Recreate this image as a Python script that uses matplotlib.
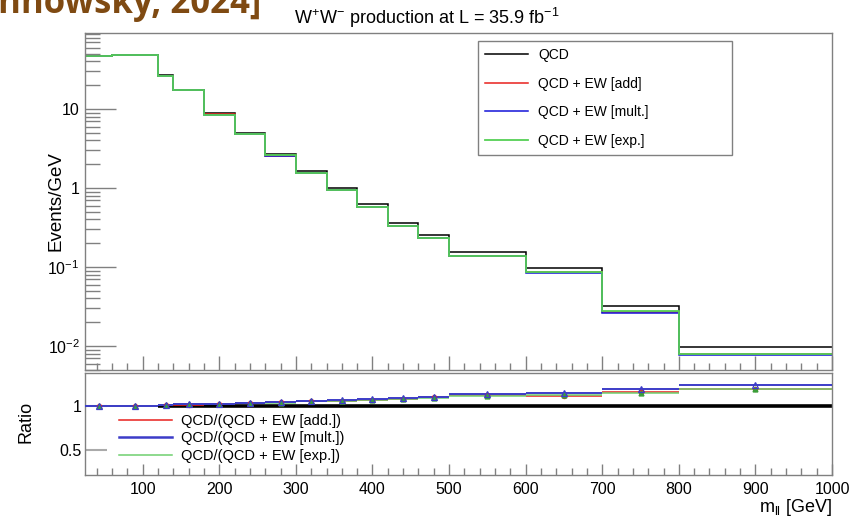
import numpy as np
import matplotlib
matplotlib.use("Agg")
import matplotlib.pyplot as plt
from matplotlib import font_manager
from matplotlib.lines import Line2D
from matplotlib.ticker import FixedLocator, FuncFormatter, MultipleLocator

# m_ll binning [GeV] and QCD spectrum [events/GeV]
edges = [25, 60, 120, 140, 180, 220, 260, 300, 340, 380, 420, 460, 500, 600, 700, 800, 1000]
qcd = [47.0, 48.6, 26.8, 17.6, 8.8, 5.0, 2.7, 1.66, 1.0, 0.62, 0.36, 0.255,
       0.156, 0.098, 0.0317, 0.0096]

# QCD / (QCD + EW) for the three combination schemes
ratio_add = [1.0, 1.003, 1.016, 1.022, 1.030, 1.038, 1.047, 1.058, 1.068, 1.075,
             1.090, 1.104, 1.128, 1.118, 1.162, 1.200]
ratio_mult = [1.0, 1.003, 1.018, 1.024, 1.032, 1.040, 1.050, 1.062, 1.072, 1.080,
              1.095, 1.110, 1.138, 1.154, 1.200, 1.250]
ratio_exp = [1.0, 1.003, 1.016, 1.024, 1.033, 1.040, 1.042, 1.058, 1.066, 1.073,
             1.088, 1.102, 1.123, 1.132, 1.158, 1.204]

unity_from = 120

names = {f.name for f in font_manager.fontManager.ttflist}
SANS = "Liberation Sans Narrow" if "Liberation Sans Narrow" in names else "Liberation Sans"
plt.rcParams["font.family"] = [SANS, "DejaVu Sans"]
plt.rcParams["mathtext.fontset"] = "custom"
plt.rcParams["mathtext.rm"] = SANS
plt.rcParams["mathtext.it"] = SANS + ":italic"
plt.rcParams["mathtext.bf"] = SANS + ":bold"

C_QCD, C_ADD, C_MULT, C_EXP = "black", "#e8201c", "#1414d8", "#55d055"
GRID = "#808080"

edges = np.array(edges, float)
qcd = np.array(qcd)
centers = 0.5 * (edges[:-1] + edges[1:])
ew = {"add": qcd / np.array(ratio_add),
      "mult": qcd / np.array(ratio_mult),
      "exp": qcd / np.array(ratio_exp)}

W, H = 856, 521
fig = plt.figure(figsize=(W / 100, H / 100), dpi=100)


def frac(x0, y0, x1, y1):
    return [x0 / W, 1 - y1 / H, (x1 - x0) / W, (y1 - y0) / H]


ax1 = fig.add_axes(frac(85.3, 33.3, 832, 370))
ax2 = fig.add_axes(frac(85.3, 373, 832, 475))

# ---- spectrum ----
ax1.stairs(qcd, edges, baseline=None, color=C_QCD, lw=1.1, label="QCD")
ax1.stairs(ew["add"], edges, baseline=None, color=C_ADD, lw=1.1, label="QCD + EW [add]")
ax1.stairs(ew["mult"], edges, baseline=None, color=C_MULT, lw=1.1, label="QCD + EW [mult.]")
ax1.stairs(ew["exp"], edges, baseline=None, color=C_EXP, lw=1.3, label="QCD + EW [exp.]")
ax1.set_yscale("log")
ax1.set_xlim(edges[0], edges[-1])
ax1.set_ylim(0.00497, 91)


def log_lab(v, _):
    e = int(round(np.log10(v)))
    if e >= 0:
        return f"{int(round(v))}"
    return r"$\mathregular{10^{%d}}$" % e


ax1.yaxis.set_major_locator(FixedLocator([1e-2, 1e-1, 1, 10]))
ax1.yaxis.set_major_formatter(FuncFormatter(log_lab))
ax1.yaxis.set_minor_locator(matplotlib.ticker.LogLocator(base=10, subs=np.arange(2, 10)))
ax1.yaxis.set_minor_formatter(matplotlib.ticker.NullFormatter())
ax1.xaxis.set_major_locator(MultipleLocator(100))
ax1.xaxis.set_minor_locator(MultipleLocator(20))
ax1.tick_params(axis="y", which="major", direction="in", length=22, width=1,
                color=GRID, labelsize=11.5, pad=4)
ax1.tick_params(axis="y", which="minor", direction="in", length=11, width=1, color=GRID)
ax1.tick_params(axis="x", which="major", direction="in", length=10, width=1, color=GRID,
                labelbottom=False)
ax1.tick_params(axis="x", which="minor", direction="in", length=5, width=1, color=GRID)

ax1.legend(loc="upper left", bbox_to_anchor=(478 / W, 1 - 152 / H, 254 / W, 111 / H),
           bbox_transform=fig.transFigure, mode="expand", fontsize=10,
           handlelength=3.1, handletextpad=0.72, labelspacing=1.05, borderpad=0.5,
           borderaxespad=0, frameon=True, fancybox=False, edgecolor=GRID,
           framealpha=1)

# ---- ratio panel ----
ax2.hlines(1, unity_from, edges[-1], color="black", lw=2.6, zorder=1)
ax2.hlines(ratio_add, edges[:-1], edges[1:], color=C_ADD, lw=1.1, zorder=2)
ax2.hlines(ratio_exp, edges[:-1], edges[1:], color="#6fd06f", lw=1.1, zorder=3)
ax2.hlines(ratio_mult, edges[:-1], edges[1:], color="#3c3cc8", lw=1.4, zorder=4)
ax2.plot(centers, ratio_add, "o", ms=3, color=C_ADD, mfc="none", mew=0.9, zorder=5)
ax2.plot(centers, ratio_exp, "^", ms=3.5, color="#3aa03a", zorder=5)
ax2.plot(centers, ratio_mult, "^", ms=4, color="#3c3cc8", mfc="none", mew=0.9, zorder=6)
ax2.set_xlim(edges[0], edges[-1])
ax2.set_ylim(0.21, 1.385)
ax2.xaxis.set_major_locator(MultipleLocator(100))
ax2.xaxis.set_minor_locator(MultipleLocator(20))
ax2.yaxis.set_major_locator(FixedLocator([0.5, 1]))
ax2.yaxis.set_major_formatter(FuncFormatter(lambda v, _: "1" if v == 1 else f"{v:g}"))
ax2.tick_params(axis="x", which="major", direction="in", length=8, width=1, color=GRID,
                labelsize=11.5, pad=5)
ax2.tick_params(axis="x", which="minor", direction="in", length=5, width=1, color=GRID)
ax2.tick_params(axis="y", which="major", direction="in", length=16, width=1.5, color="#aaaaaa",
                labelsize=11.5, pad=3)

ratio_handles = [Line2D([], [], color=C_ADD, lw=1.1),
                 Line2D([], [], color="#3c3cc8", lw=1.8),
                 Line2D([], [], color="#6fd06f", lw=1.1)]
ax2.legend(ratio_handles,
           ["QCD/(QCD + EW [add.])", "QCD/(QCD + EW [mult.])", "QCD/(QCD + EW [exp.])"],
           loc="upper left", bbox_to_anchor=(119 / W, 1 - 414 / H),
           bbox_transform=fig.transFigure, fontsize=10.5, frameon=False,
           handlelength=3.6, handletextpad=0.68, labelspacing=0.23, borderpad=0,
           borderaxespad=0)

for ax in (ax1, ax2):
    for s in ax.spines.values():
        s.set_color(GRID)
        s.set_linewidth(1.0)

# ---- labels ----
fig.text(56 / W, 1 - 201 / H, "Events/GeV", rotation=90, ha="center", va="center",
         fontsize=13.5)
fig.text(26 / W, 1 - 422 / H, "Ratio", rotation=90, ha="center", va="center", fontsize=13)
fig.text(832 / W, 1 - 507 / H, r"m$_{\mathregular{ll}}$ [GeV]", ha="right", va="center",
         fontsize=13)
fig.text(426.5 / W, 1 - 24 / H,
         r"$\mathregular{W^{+}W^{-}}$ production at L = 35.9 fb$^{\mathregular{-1}}$",
         ha="center", va="baseline", fontsize=13)
fig.text(-2 / W, 1 - 13 / H, "nnowsky, 2024]", ha="left", va="baseline",
         fontsize=25, fontweight="bold", color="#7f4a12", family=["Open Sans", "DejaVu Sans"])

fig.savefig("out.png", dpi=100)
